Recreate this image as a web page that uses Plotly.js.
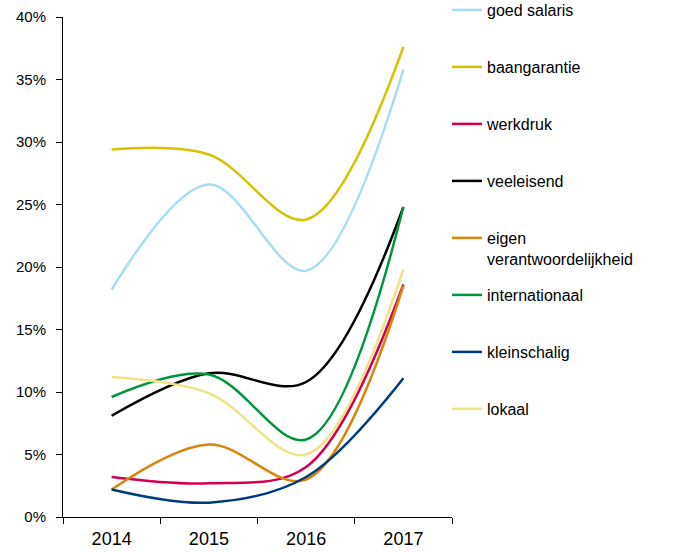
<!DOCTYPE html>
<html>
<head>
<meta charset="utf-8">
<script src="https://cdn.plot.ly/plotly-3.0.1.min.js"></script>
<style>html,body{margin:0;padding:0;background:#fff;}#chart{width:673px;height:552px;}</style>
</head>
<body>
<div id="chart"></div>
<script>
const years = ['2014', '2015', '2016', '2017'];
const seriesNames = ['goed salaris', 'baangarantie', 'werkdruk', 'veeleisend', 'eigen<br>verantwoordelijkheid', 'internationaal', 'kleinschalig', 'lokaal'];
const goedSalaris = [0.182, 0.266, 0.197, 0.358];
const baangarantie = [0.294, 0.290, 0.238, 0.376];
const werkdruk = [0.032, 0.027, 0.040, 0.186];
const veeleisend = [0.081, 0.115, 0.108, 0.248];
const eigenVerantwoordelijkheid = [0.022, 0.058, 0.030, 0.185];
const internationaal = [0.096, 0.114, 0.062, 0.248];
const kleinschalig = [0.022, 0.0115, 0.032, 0.111];
const lokaal = [0.112, 0.099, 0.050, 0.198];
const yTickVals = [0, 0.05, 0.10, 0.15, 0.20, 0.25, 0.30, 0.35, 0.40];
const yTickText = ['0%', '5%', '10%', '15%', '20%', '25%', '30%', '35%', '40%'];

const values = [goedSalaris, baangarantie, werkdruk, veeleisend, eigenVerantwoordelijkheid, internationaal, kleinschalig, lokaal];
const colors = ['#a8dcf3', '#d3c300', '#d4004f', '#000000', '#d9840a', '#00963c', '#003a7a', '#efe38a'];
const legendY = [10, 67, 124, 181, 238, 295, 352, 409];

const FONT = 'Liberation Sans, Arial, sans-serif';
const plotTop = 17, plotBottom = 517, plotLeft = 63, plotRight = 452;

const traces = values.map((v, i) => ({
  x: years, y: v, name: seriesNames[i], type: 'scatter', mode: 'lines',
  line: {color: colors[i], width: 2.5, shape: 'spline', smoothing: 1},
  legend: i === 0 ? 'legend' : 'legend' + (i + 1),
  hoverinfo: 'x+y+name'
}));

const layout = {
  width: 673, height: 552,
  margin: {l: plotLeft, r: 673 - plotRight, t: plotTop, b: 552 - plotBottom, autoexpand: false},
  paper_bgcolor: '#fff', plot_bgcolor: '#fff',
  font: {family: FONT, size: 15, color: '#000'},
  showlegend: true,
  xaxis: {
    type: 'category', range: [-0.5, 3.5], tickson: 'boundaries',
    showline: true, linecolor: '#000', linewidth: 1, ticks: 'outside', ticklen: 6, tickcolor: '#000',
    ticklabelstandoff: 5,
    showgrid: false, zeroline: false, tickfont: {family: FONT, size: 18}
  },
  yaxis: {
    range: [0, 0.40], tickvals: yTickVals, ticktext: yTickText,
    showline: true, linecolor: '#000', linewidth: 1, ticks: 'outside', ticklen: 6, tickcolor: '#000',
    ticklabelstandoff: 7,
    showgrid: false, zeroline: false, tickfont: {family: FONT, size: 15}
  }
};
const legendLeft = 447;
legendY.forEach((py, i) => {
  const key = i === 0 ? 'legend' : 'legend' + (i + 1);
  layout[key] = {
    x: (legendLeft - plotLeft) / (plotRight - plotLeft), xanchor: 'left',
    y: (plotBottom - (py - 17)) / (plotBottom - plotTop), yanchor: 'top', valign: 'top',
    font: {family: FONT, size: 16, color: '#000'}, bgcolor: 'rgba(0,0,0,0)', itemwidth: 30
  };
});

Plotly.newPlot('chart', traces, layout, {displayModeBar: false, staticPlot: true});
</script>
</body>
</html>
